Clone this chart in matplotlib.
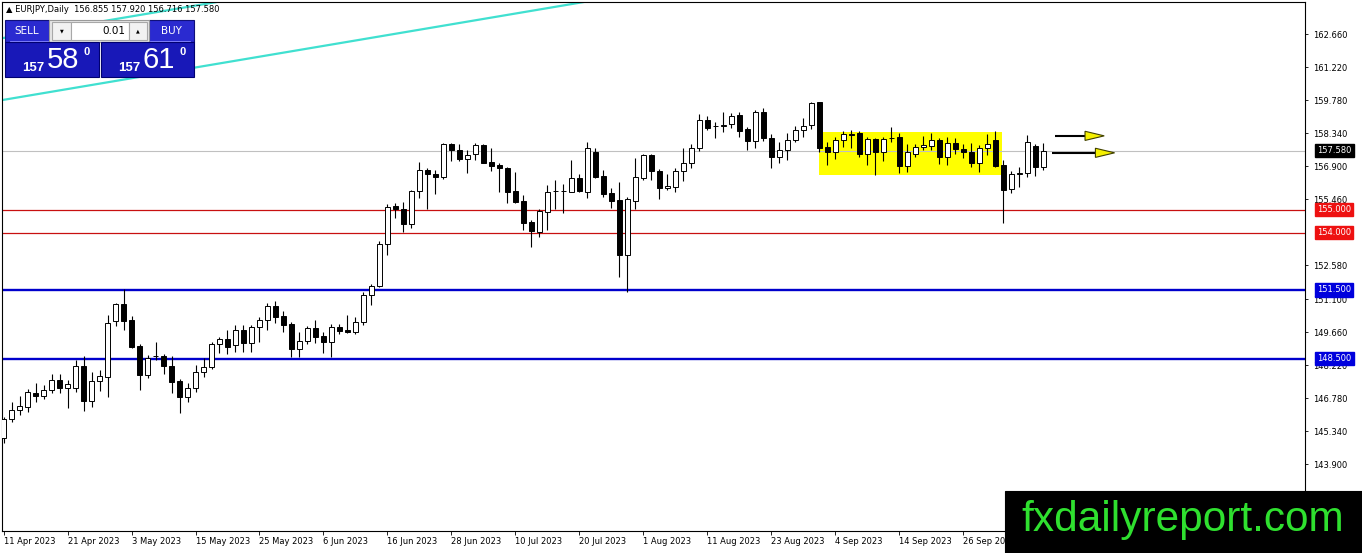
import matplotlib
matplotlib.use("Agg")
import matplotlib.pyplot as plt
from matplotlib.patches import Rectangle

# ---------------- data ----------------
symbol_header = "\u25b2 EURJPY,Daily  156.855 157.920 156.716 157.580"

opens = [145.02, 145.85, 146.28, 146.40, 146.98, 146.89, 147.13, 147.56, 147.20, 147.24,
         148.20, 146.66, 147.52, 147.71, 150.15, 150.88, 150.18, 149.05, 147.78, 148.60,
         148.61, 148.18, 147.54, 146.81, 147.20, 147.93, 148.12, 149.16, 149.34, 149.08,
         149.77, 149.19, 149.86, 150.18, 150.79, 150.36, 149.99, 148.90, 149.28, 149.85,
         149.48, 149.24, 149.86, 149.75, 149.67, 150.11, 151.27, 151.67, 153.48, 155.16,
         155.01, 154.36, 155.81, 156.73, 156.55, 156.41, 157.86, 157.60, 157.19, 157.45,
         157.82, 157.06, 156.95, 156.83, 155.81, 155.39, 154.46, 154.04, 154.91, 155.80,
         155.81, 155.78, 156.36, 155.78, 157.50, 156.47, 155.71, 155.42, 153.02, 155.38,
         156.39, 157.38, 156.68, 155.96, 156.00, 156.68, 157.02, 157.67, 158.91, 158.66,
         158.65, 158.72, 159.13, 158.50, 158.01, 159.24, 158.14, 157.28, 157.60, 158.04,
         158.47, 158.69, 159.68, 157.74, 157.50, 158.04, 158.28, 158.33, 157.45, 158.08,
         157.50, 158.14, 158.15, 156.90, 157.45, 157.72, 157.79, 158.06, 157.28, 157.89,
         157.64, 157.50, 157.05, 157.67, 158.06, 156.94, 155.88, 156.55, 156.58, 157.77,
         156.855]
highs = [145.96, 146.62, 146.87, 147.16, 147.42, 147.35, 147.81, 147.81, 147.56, 148.44,
         148.61, 147.91, 148.00, 150.40, 150.94, 151.52, 150.36, 149.16, 148.66, 149.24,
         148.70, 148.61, 147.59, 147.42, 148.22, 148.51, 149.24, 149.45, 149.77, 149.96,
         149.96, 149.96, 150.30, 150.94, 151.01, 150.59, 150.11, 149.67, 149.92, 150.18,
         149.67, 150.01, 150.01, 150.40, 150.30, 151.42, 151.74, 153.63, 155.24, 155.30,
         155.34, 155.85, 157.09, 156.80, 156.73, 157.92, 157.93, 157.86, 157.60, 157.89,
         157.86, 157.67, 157.05, 156.87, 156.65, 155.64, 154.55, 155.05, 156.07, 156.29,
         156.10, 157.16, 156.54, 157.96, 157.70, 156.73, 155.93, 156.19, 155.56, 157.27,
         157.45, 157.45, 156.77, 156.54, 156.83, 157.67, 157.85, 159.16, 159.10, 158.81,
         159.24, 159.20, 159.27, 158.62, 159.35, 159.45, 158.28, 157.96, 158.33, 158.66,
         158.98, 159.71, 159.71, 157.96, 158.18, 158.43, 158.47, 158.43, 158.18, 158.14,
         158.18, 158.62, 158.33, 157.86, 157.86, 158.21, 158.36, 158.11, 158.15, 158.11,
         157.86, 157.89, 157.82, 158.30, 158.44, 157.16, 156.70, 156.87, 158.25, 157.86,
         157.920]
lows = [144.80, 145.75, 146.04, 146.18, 146.62, 146.72, 146.98, 146.98, 146.36, 147.05,
        146.23, 146.37, 147.10, 146.84, 149.92, 149.75, 148.95, 147.13, 147.64, 148.44,
        147.85, 147.01, 146.11, 146.62, 147.05, 147.71, 148.03, 148.73, 148.70, 148.80,
        148.80, 148.80, 149.24, 149.77, 150.04, 149.67, 148.58, 148.58, 149.16, 149.19,
        148.76, 148.58, 149.57, 149.63, 149.57, 149.96, 150.84, 151.64, 153.02, 154.62,
        154.04, 154.22, 155.52, 155.03, 155.68, 156.32, 157.13, 157.13, 156.61, 157.16,
        157.02, 156.70, 155.78, 155.30, 155.27, 154.11, 153.38, 153.82, 154.11, 155.01,
        154.84, 155.78, 155.78, 155.52, 156.36, 155.56, 155.08, 152.07, 151.39, 155.01,
        156.29, 156.29, 155.46, 155.85, 155.75, 156.25, 156.83, 157.56, 158.47, 158.11,
        158.40, 158.57, 158.18, 157.60, 157.70, 157.99, 156.80, 157.02, 157.16, 157.96,
        158.18, 158.54, 157.53, 156.97, 157.21, 157.74, 157.70, 157.31, 156.94, 156.51,
        157.12, 157.96, 156.58, 156.65, 157.28, 157.60, 157.60, 156.99, 156.94, 157.45,
        157.24, 156.87, 156.65, 157.38, 156.87, 154.40, 155.74, 156.00, 156.44, 156.46,
        156.716]
closes = [145.85, 146.28, 146.43, 147.03, 146.89, 147.13, 147.56, 147.20, 147.38, 148.20,
          146.66, 147.52, 147.74, 150.04, 150.88, 150.15, 149.02, 147.78, 148.51, 148.62,
          148.18, 147.49, 146.81, 147.20, 147.93, 148.12, 149.16, 149.34, 149.02, 149.77,
          149.19, 149.89, 150.18, 150.79, 150.33, 149.96, 148.90, 149.28, 149.85, 149.45,
          149.24, 149.86, 149.72, 149.67, 150.11, 151.27, 151.67, 153.48, 155.13, 155.04,
          154.36, 155.81, 156.73, 156.54, 156.41, 157.86, 157.60, 157.19, 157.38, 157.82,
          157.05, 156.92, 156.80, 155.78, 155.35, 154.43, 154.08, 154.94, 155.78, 155.82,
          155.80, 156.36, 155.80, 157.67, 156.44, 155.68, 155.38, 153.02, 155.45, 156.42,
          157.38, 156.70, 155.96, 156.03, 156.68, 157.02, 157.70, 158.91, 158.57, 158.65,
          158.68, 159.10, 158.43, 158.01, 159.24, 158.14, 157.28, 157.60, 158.04, 158.47,
          158.65, 159.64, 157.70, 157.50, 158.04, 158.28, 158.27, 157.45, 158.08, 157.50,
          158.08, 158.11, 156.90, 157.50, 157.72, 157.82, 158.06, 157.28, 157.89, 157.63,
          157.50, 157.05, 157.67, 157.86, 156.90, 155.85, 156.55, 156.61, 157.96, 156.84,
          157.580]

date_labels = ["11 Apr 2023", "21 Apr 2023", "3 May 2023", "15 May 2023", "25 May 2023",
               "6 Jun 2023", "16 Jun 2023", "28 Jun 2023", "10 Jul 2023", "20 Jul 2023",
               "1 Aug 2023", "11 Aug 2023", "23 Aug 2023", "4 Sep 2023", "14 Sep 2023",
               "26 Sep 2023"]
date_label_bars = [0, 8, 16, 24, 32, 40, 48, 56, 64, 72, 80, 88, 96, 104, 112, 120]

price_ticks = [162.66, 161.22, 159.78, 158.34, 156.90, 155.46, 152.58, 151.10,
               149.66, 148.22, 146.78, 145.34, 143.90]

bid_price = 157.58
red_levels = [155.0, 154.0]
blue_levels = [151.5, 148.5]

# drawn objects (bar index / price)
trend_points_bar = [-0.19, 71.7]
trend_points_price = [159.78, 164.01]
channel_offset = 2.70
range_box_bars = [101.9, 124.8]
range_box_prices = [156.51, 158.40]
arrow_start_bars = [131.5, 131.1]
arrow_end_bars = [137.6, 138.9]
arrow_prices = [158.22, 157.48]

sell_big, buy_big = "58", "61"
price_handle = "157"
lot_size = "0.01"

# ---------------- figure ----------------
W, H = 1362, 553
fig = plt.figure(figsize=(W / 100, H / 100), dpi=100)
fig.patch.set_facecolor("white")

px_left, px_right, px_top, px_bottom = 2, 1305, 2, 531
ax = fig.add_axes([px_left / W, (H - px_bottom) / H,
                   (px_right - px_left) / W, (px_bottom - px_top) / H])
ax.set_xlim(-0.19, 162.7)
ax.set_ylim(140.98, 164.06)

n = len(opens)
xs = list(range(n))

# range rectangle (yellow)
ax.add_patch(Rectangle((range_box_bars[0], range_box_prices[0]),
                       range_box_bars[1] - range_box_bars[0],
                       range_box_prices[1] - range_box_prices[0],
                       facecolor="#ffff00", edgecolor="none", zorder=1))

# horizontal levels
ax.axhline(bid_price, color="#c0c0c0", lw=0.8, zorder=2)
for lv in red_levels:
    ax.axhline(lv, color="#c81010", lw=0.9, zorder=2)
for lv in blue_levels:
    ax.axhline(lv, color="#0000cc", lw=1.7, zorder=2)

# channel lines (turquoise)
slope = (trend_points_price[1] - trend_points_price[0]) / (trend_points_bar[1] - trend_points_bar[0])
tx = [-2, 120]
ty = [trend_points_price[0] + slope * (t - trend_points_bar[0]) for t in tx]
ax.plot(tx, ty, color="#40e0d0", lw=1.6, zorder=2, solid_capstyle="butt")
ax.plot(tx, [v + channel_offset for v in ty], color="#40e0d0", lw=1.6, zorder=2)

# candles
ax.vlines(xs, lows, highs, color="black", lw=0.8, zorder=3)
bodies_bottom = [min(o, c) for o, c in zip(opens, closes)]
bodies_h = [max(abs(c - o), 0.015) for o, c in zip(opens, closes)]
fills = ["white" if c >= o else "black" for o, c in zip(opens, closes)]
ax.bar(xs, bodies_h, bottom=bodies_bottom, width=0.56, color=fills,
       edgecolor="black", linewidth=0.7, zorder=4)

# arrows (yellow heads)
for xs0, xe, yp in zip(arrow_start_bars, arrow_end_bars, arrow_prices):
    head_len = 2.4
    head_half = 0.2
    ax.plot([xs0, xe - head_len], [yp, yp], color="black", lw=1.5, zorder=5,
            solid_capstyle="butt")
    ax.fill([xe - head_len, xe, xe - head_len], [yp + head_half, yp, yp - head_half],
            facecolor="#f5f000", edgecolor="#404000", lw=0.8, zorder=6)

# axes styling
for s in ax.spines.values():
    s.set_color("black")
    s.set_linewidth(0.8)
ax.yaxis.tick_right()
ax.set_yticks(price_ticks)
ax.set_yticklabels([f"{p:.3f}" for p in price_ticks])
ax.tick_params(axis="y", direction="out", length=2.5, width=0.6, pad=3,
               labelsize=6, colors="black")
ax.set_xticks(date_label_bars)
ax.set_xticklabels(date_labels)
for lbl in ax.get_xticklabels():
    lbl.set_horizontalalignment("left")
ax.tick_params(axis="x", direction="out", length=3, width=0.6, pad=1.5, labelsize=6)

# price boxes on the right axis
def price_box(price, fc):
    ax.annotate(f"{price:.3f}", xy=(1, price), xycoords=("axes fraction", "data"),
                xytext=(12, 0), textcoords="offset pixels", ha="left", va="center",
                fontsize=6, color="white", annotation_clip=False, zorder=20,
                bbox=dict(boxstyle="square,pad=0.28", fc=fc, ec=fc))

price_box(bid_price, "black")
for lv in red_levels:
    price_box(lv, "#ee1111")
for lv in blue_levels:
    price_box(lv, "#0000dd")

# ---------------- overlay (panel, header, watermark) ----------------
ov = fig.add_axes([0, 0, 1, 1], zorder=10)
ov.set_xlim(0, W)
ov.set_ylim(H, 0)
ov.axis("off")
ov.patch.set_alpha(0)


def box(x0, y0, x1, y1, fc, ec=None, lw=0.8):
    ov.add_patch(Rectangle((x0, y0), x1 - x0, y1 - y0, facecolor=fc,
                           edgecolor=ec if ec else fc, lw=lw))


ov.text(6, 10, symbol_header, fontsize=6, color="black", ha="left", va="center")

# one-click trading panel
box(5, 20, 49, 42, "#2a2ad0", "#10107a")
box(149, 20, 194, 42, "#2a2ad0", "#10107a")
box(49, 20, 149, 42, "#e6e6e6", "#9a9a9a")
box(52, 22, 71, 40, "#f2f2f2", "#a8a8a8")
box(71, 22, 129, 40, "white", "#a8a8a8")
box(129, 22, 147, 40, "#f2f2f2", "#a8a8a8")
box(5, 42, 99, 77, "#1818b8", "#000070")
box(101, 42, 194, 77, "#1818b8", "#000070")
ov.plot([10, 48], [40.5, 40.5], color="#8a8aff", lw=0.6)
ov.plot([150, 190], [40.5, 40.5], color="#8a8aff", lw=0.6)

ov.text(27, 31, "SELL", color="white", fontsize=7.5, ha="center", va="center")
ov.text(171, 31, "BUY", color="white", fontsize=7.5, ha="center", va="center")
ov.text(61.5, 31, "\u25bc", color="black", fontsize=3.5, ha="center", va="center")
ov.text(138, 31, "\u25b2", color="black", fontsize=3.5, ha="center", va="center")
ov.text(125, 31, lot_size, color="black", fontsize=7.5, ha="right", va="center")

for dx, big in ((0, sell_big), (96, buy_big)):
    ov.text(22 + dx, 71, price_handle, color="white", fontsize=9.5, ha="left",
            va="baseline", family="Liberation Sans", fontweight="bold")
    ov.text(47 + dx, 68.5, big, color="white", fontsize=21, ha="left",
            va="baseline", family="Liberation Sans")
    ov.text(83 + dx, 55, "0", color="white", fontsize=8, ha="left",
            va="baseline", family="Liberation Sans", fontweight="bold")

# watermark
box(1005, 491, 1362, 553, "black", "black")
ov.text(1183, 531, "fxdailyreport.com", color="#2fe02f", fontsize=30.5,
        family="Liberation Sans", ha="center", va="baseline")

fig.savefig("out.png", dpi=100)
